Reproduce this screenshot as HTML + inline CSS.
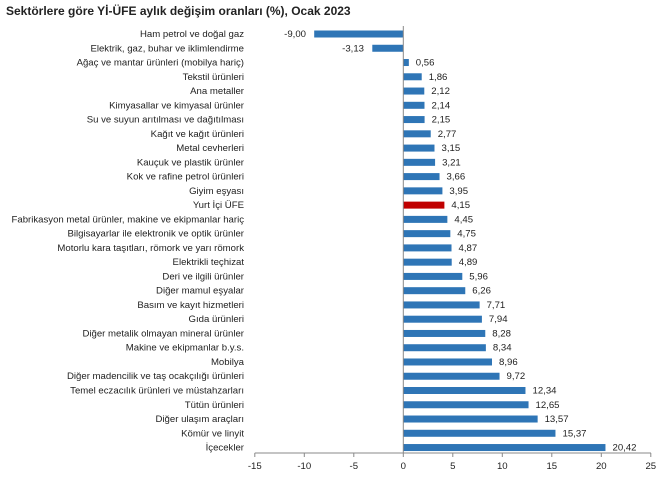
<!DOCTYPE html>
<html><head><meta charset="utf-8"><style>body{margin:0;background:#fff}svg{display:block}</style></head><body>
<svg width="661" height="477" xmlns="http://www.w3.org/2000/svg" font-family="Liberation Sans, Arial, sans-serif">
<rect width="661" height="477" fill="#fff"/>
<text x="6" y="15" font-size="12" font-weight="bold" fill="#222">Sektörlere göre Yİ-ÜFE aylık değişim oranları (%), Ocak 2023</text>
<g fill="#2e75b6">
<rect x="314.2" y="30.5" width="89.1" height="7"/>
<rect x="372.3" y="44.76" width="31" height="7"/>
<rect x="403.3" y="59.02" width="5.54" height="7"/>
<rect x="403.3" y="73.28" width="18.41" height="7"/>
<rect x="403.3" y="87.54" width="20.99" height="7"/>
<rect x="403.3" y="101.8" width="21.19" height="7"/>
<rect x="403.3" y="116.06" width="21.29" height="7"/>
<rect x="403.3" y="130.32" width="27.42" height="7"/>
<rect x="403.3" y="144.58" width="31.19" height="7"/>
<rect x="403.3" y="158.84" width="31.78" height="7"/>
<rect x="403.3" y="173.1" width="36.23" height="7"/>
<rect x="403.3" y="187.36" width="39.11" height="7"/>
<rect x="403.3" y="201.62" width="41.09" height="7" fill="#c00000"/>
<rect x="403.3" y="215.88" width="44.06" height="7"/>
<rect x="403.3" y="230.14" width="47.03" height="7"/>
<rect x="403.3" y="244.4" width="48.21" height="7"/>
<rect x="403.3" y="258.66" width="48.41" height="7"/>
<rect x="403.3" y="272.92" width="59" height="7"/>
<rect x="403.3" y="287.18" width="61.97" height="7"/>
<rect x="403.3" y="301.44" width="76.33" height="7"/>
<rect x="403.3" y="315.7" width="78.61" height="7"/>
<rect x="403.3" y="329.96" width="81.97" height="7"/>
<rect x="403.3" y="344.22" width="82.57" height="7"/>
<rect x="403.3" y="358.48" width="88.7" height="7"/>
<rect x="403.3" y="372.74" width="96.23" height="7"/>
<rect x="403.3" y="387" width="122.17" height="7"/>
<rect x="403.3" y="401.26" width="125.24" height="7"/>
<rect x="403.3" y="415.52" width="134.34" height="7"/>
<rect x="403.3" y="429.78" width="152.16" height="7"/>
<rect x="403.3" y="444.04" width="202.16" height="7"/>
</g>
<g font-size="9.6" fill="#222" text-anchor="end">
<text x="244" y="37">Ham petrol ve doğal gaz</text>
<text x="244" y="51.26">Elektrik, gaz, buhar ve iklimlendirme</text>
<text x="244" y="65.52">Ağaç ve mantar ürünleri (mobilya hariç)</text>
<text x="244" y="79.78">Tekstil ürünleri</text>
<text x="244" y="94.04">Ana metaller</text>
<text x="244" y="108.3">Kimyasallar ve kimyasal ürünler</text>
<text x="244" y="122.56">Su ve suyun arıtılması ve dağıtılması</text>
<text x="244" y="136.82">Kağıt ve kağıt ürünleri</text>
<text x="244" y="151.08">Metal cevherleri</text>
<text x="244" y="165.34">Kauçuk ve plastik ürünler</text>
<text x="244" y="179.6">Kok ve rafine petrol ürünleri</text>
<text x="244" y="193.86">Giyim eşyası</text>
<text x="244" y="208.12">Yurt İçi ÜFE</text>
<text x="244" y="222.38">Fabrikasyon metal ürünler, makine ve ekipmanlar hariç</text>
<text x="244" y="236.64">Bilgisayarlar ile elektronik ve optik ürünler</text>
<text x="244" y="250.9">Motorlu kara taşıtları, römork ve yarı römork</text>
<text x="244" y="265.16">Elektrikli teçhizat</text>
<text x="244" y="279.42">Deri ve ilgili ürünler</text>
<text x="244" y="293.68">Diğer mamul eşyalar</text>
<text x="244" y="307.94">Basım ve kayıt hizmetleri</text>
<text x="244" y="322.2">Gıda ürünleri</text>
<text x="244" y="336.46">Diğer metalik olmayan mineral ürünler</text>
<text x="244" y="350.72">Makine ve ekipmanlar b.y.s.</text>
<text x="244" y="364.98">Mobilya</text>
<text x="244" y="379.24">Diğer madencilik ve taş ocakçılığı ürünleri</text>
<text x="244" y="393.5">Temel eczacılık ürünleri ve müstahzarları</text>
<text x="244" y="407.76">Tütün ürünleri</text>
<text x="244" y="422.02">Diğer ulaşım araçları</text>
<text x="244" y="436.28">Kömür ve linyit</text>
<text x="244" y="450.54">İçecekler</text>
<text x="306" y="37">-9,00</text>
<text x="364" y="51.26">-3,13</text>
</g>
<g font-size="9.6" fill="#222">
<text x="415.8" y="65.52">0,56</text>
<text x="428.7" y="79.78">1,86</text>
<text x="431.3" y="94.04">2,12</text>
<text x="431.5" y="108.3">2,14</text>
<text x="431.6" y="122.56">2,15</text>
<text x="437.7" y="136.82">2,77</text>
<text x="441.5" y="151.08">3,15</text>
<text x="442.1" y="165.34">3,21</text>
<text x="446.5" y="179.6">3,66</text>
<text x="449.4" y="193.86">3,95</text>
<text x="451.4" y="208.12">4,15</text>
<text x="454.4" y="222.38">4,45</text>
<text x="457.3" y="236.64">4,75</text>
<text x="458.5" y="250.9">4,87</text>
<text x="458.7" y="265.16">4,89</text>
<text x="469.3" y="279.42">5,96</text>
<text x="472.3" y="293.68">6,26</text>
<text x="486.6" y="307.94">7,71</text>
<text x="488.9" y="322.2">7,94</text>
<text x="492.3" y="336.46">8,28</text>
<text x="492.9" y="350.72">8,34</text>
<text x="499" y="364.98">8,96</text>
<text x="506.5" y="379.24">9,72</text>
<text x="532.5" y="393.5">12,34</text>
<text x="535.5" y="407.76">12,65</text>
<text x="544.6" y="422.02">13,57</text>
<text x="562.5" y="436.28">15,37</text>
<text x="612.5" y="450.54">20,42</text>
</g>
<line x1="403.3" y1="26" x2="403.3" y2="457" stroke="#888" stroke-width="1"/>
<line x1="254.8" y1="453" x2="651" y2="453" stroke="#888" stroke-width="1"/>
<g stroke="#888">
<line x1="254.8" y1="453" x2="254.8" y2="457"/><line x1="304.3" y1="453" x2="304.3" y2="457"/><line x1="353.8" y1="453" x2="353.8" y2="457"/><line x1="452.8" y1="453" x2="452.8" y2="457"/><line x1="502.3" y1="453" x2="502.3" y2="457"/><line x1="551.8" y1="453" x2="551.8" y2="457"/><line x1="601.3" y1="453" x2="601.3" y2="457"/><line x1="650.8" y1="453" x2="650.8" y2="457"/>
</g>
<g font-size="9.6" fill="#222" text-anchor="middle">
<text x="254.8" y="469">-15</text><text x="304.3" y="469">-10</text><text x="353.8" y="469">-5</text><text x="403.3" y="469">0</text><text x="452.8" y="469">5</text><text x="502.3" y="469">10</text><text x="551.8" y="469">15</text><text x="601.3" y="469">20</text><text x="650.8" y="469">25</text>
</g>
</svg>
</body></html>
